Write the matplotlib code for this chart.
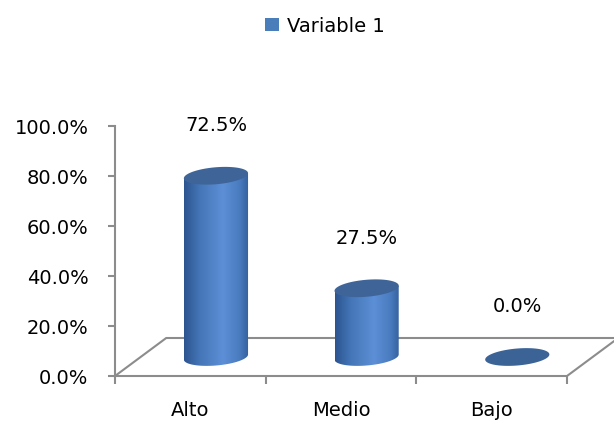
import numpy as np
import matplotlib
matplotlib.use("Agg")
import matplotlib.pyplot as plt
from matplotlib.patches import Polygon, Patch
from matplotlib.colors import LinearSegmentedColormap
from matplotlib.ticker import FuncFormatter

# ---------- Data ----------
categories = ["Alto", "Medio", "Bajo"]
values = [72.5, 27.5, 0.0]
value_labels = ["72.5%", "27.5%", "0.0%"]
y_ticks = [0, 20, 40, 60, 80, 100]
series_name = "Variable 1"

plt.rcParams['font.family'] = ['DejaVu Sans']

fig = plt.figure(figsize=(6.14, 4.23), dpi=100)
ax = fig.add_axes([115 / 614, 47 / 423, 452 / 614, 250 / 423])

# fake 3d look: floor depth, cylinder size
depth_x, depth_y = 0.34, 15.2
half_w = 0.213
ell_h = 3.4
slope = 4.8
gray = '#8c8c8c'

# ---------- Floor ----------
floor = Polygon([(-0.5, 0), (2.5, 0), (2.5 + depth_x, depth_y), (-0.5 + depth_x, depth_y)],
                closed=True, fill=False, edgecolor=gray, lw=1.5, clip_on=False, zorder=1)
ax.add_patch(floor)

# ---------- Cylinders ----------
cmap = LinearSegmentedColormap.from_list(
    'cyl', [(0, '#2c5590'), (0.25, '#4576b8'), (0.6, '#5c8fd6'), (0.85, '#4a7cc0'), (1, '#34609c')])
grad = np.linspace(0, 1, 256).reshape(1, -1)
theta = np.linspace(0, 2 * np.pi, 200)

for i, v in enumerate(values):
    cx = i + depth_x / 2
    base = depth_y / 2
    top = base + v

    if v > 0:
        t = np.linspace(np.pi, 2 * np.pi, 100)
        bx = cx + half_w * np.cos(t)
        by = base + ell_h * np.sin(t) + slope * half_w * np.cos(t)
        pts = [(cx - half_w, top - slope * half_w)] + list(zip(bx, by)) + [(cx + half_w, top + slope * half_w)]
        body = Polygon(pts, closed=True, facecolor='none', edgecolor='none')
        ax.add_patch(body)
        im = ax.imshow(grad, cmap=cmap, aspect='auto', zorder=2,
                       extent=[cx - half_w, cx + half_w, base - ell_h - 2, top + ell_h + 2])
        im.set_clip_path(body)
        cap_color = '#3f6598'
    else:
        cap_color = '#3b6396'

    ex = cx + half_w * np.cos(theta)
    ey = top + ell_h * np.sin(theta) + slope * half_w * np.cos(theta)
    ax.add_patch(Polygon(list(zip(ex, ey)), closed=True, facecolor=cap_color,
                         edgecolor='none', zorder=3))

    ax.text(cx, top + 20, value_labels[i], ha='center', va='center', fontsize=14)

ax.set_xlim(-0.5, 2.5)
ax.set_ylim(0, 100)

# ---------- Axes ----------
for side in ['top', 'right', 'bottom']:
    ax.spines[side].set_visible(False)
ax.spines['left'].set_color(gray)
ax.spines['left'].set_linewidth(1.5)

ax.set_yticks(y_ticks)
ax.yaxis.set_major_formatter(FuncFormatter(lambda y, p: f"{y:.1f}%"))
ax.tick_params(axis='y', length=5, color=gray, width=1.5, pad=14, labelsize=14)

ax.set_xticks(range(len(categories)), categories)
ax.set_xticks([-0.5, 0.5, 1.5, 2.5], minor=True)
ax.tick_params(axis='x', which='major', length=0, pad=18, labelsize=14)
ax.tick_params(axis='x', which='minor', length=6, color=gray, width=1.5)

# ---------- Legend ----------
fig.legend(handles=[Patch(facecolor='#4a7ebb', label=series_name)], loc='center',
           bbox_to_anchor=(325 / 614, 1 - 26 / 423), frameon=False, fontsize=14,
           handlelength=0.7, handleheight=0.7, handletextpad=0.4)

fig.savefig('out.png', dpi=100)
